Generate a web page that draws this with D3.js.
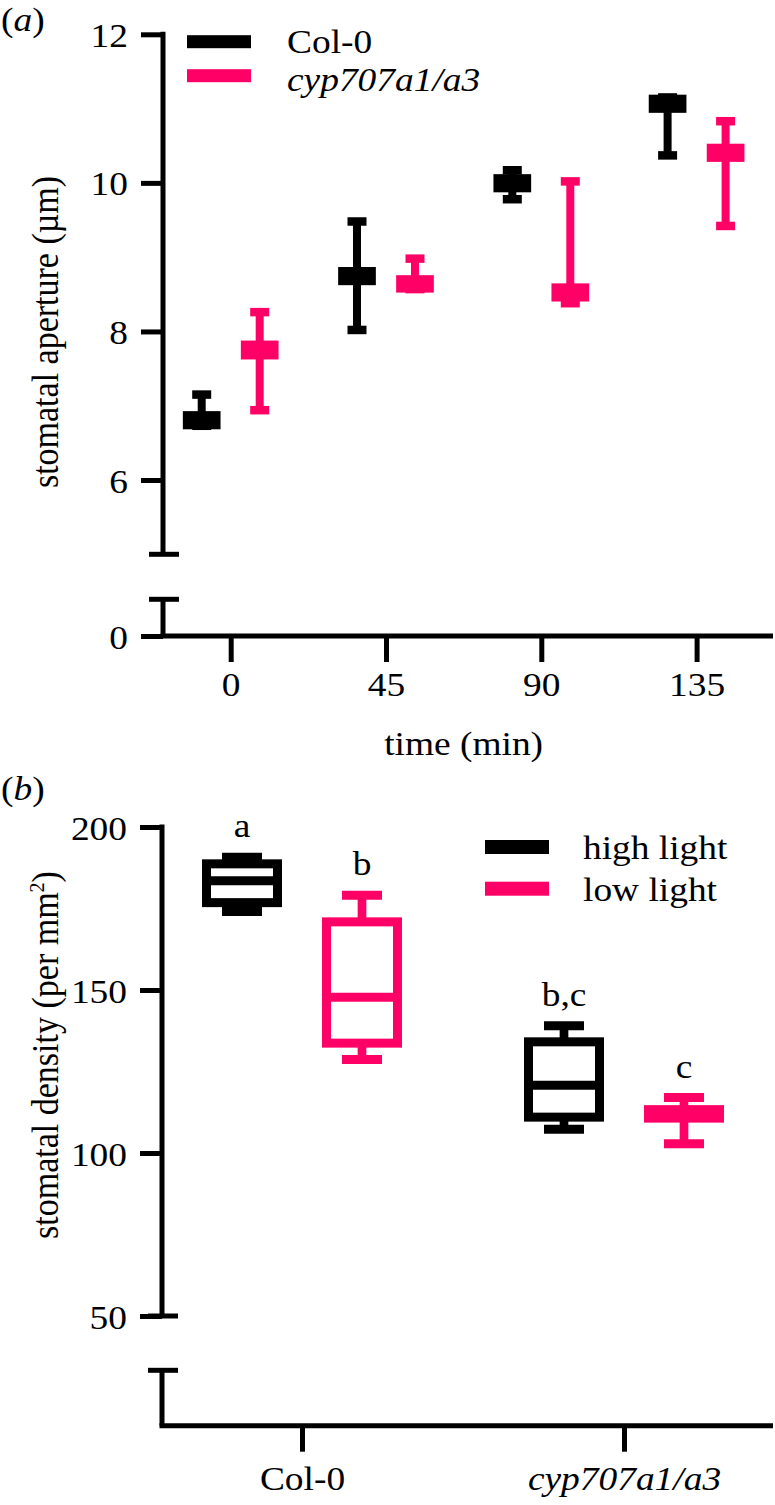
<!DOCTYPE html>
<html>
<head>
<meta charset="utf-8">
<script src="https://cdn.jsdelivr.net/npm/d3@7"></script>
<style>
  html, body { margin: 0; padding: 0; background: #ffffff; }
  svg { display: block; }
</style>
</head>
<body>
<script>
// ---------------- DATA ----------------
// Panel (a): stomatal aperture (µm) over time
const timePoints = ["0", "45", "90", "135"];
const genotypes = ["Col-0", "cyp707a1/a3"];
const col0Min = [6.73, 8.02, 9.78, 10.37];
const col0Q1  = [6.74, 8.68, 9.93, 11.00];
const col0Med = [6.80, 8.75, 10.00, 11.07];
const col0Q3  = [6.87, 8.81, 10.06, 11.13];
const col0Max = [7.15, 9.48, 10.17, 11.15];
const cypMin = [6.94, 8.57, 8.38, 9.42];
const cypQ1  = [7.68, 8.58, 8.46, 10.34];
const cypMed = [7.75, 8.64, 8.52, 10.40];
const cypQ3  = [7.82, 8.70, 8.59, 10.47];
const cypMax = [8.26, 8.98, 10.02, 10.83];
const ticksA = [6, 8, 10, 12];

// Panel (b): stomatal density (per mm²)
const genotypesB = ["Col-0", "cyp707a1/a3"];
const lightLevels = ["high light", "low light"];
const highMin = [174.1, 107.3];
const highQ1  = [176.8, 111.0];
const highMed = [183.5, 120.8];
const highQ3  = [188.7, 134.1];
const highMax = [190.7, 139.0];
const lowMin = [128.7, 102.8];
const lowQ1  = [133.7, 110.7];
const lowMed = [147.8, 112.0];
const lowQ3  = [170.9, 113.3];
const lowMax = [179.1, 117.0];
const highLetters = ["a", "b,c"];
const lowLetters = ["b", "c"];
const ticksB = [50, 100, 150, 200];

// ---------------- STYLE ----------------
const BLACK = "#000000";
const PINK = "#ff0066";
const FONT = "'Liberation Serif','Times New Roman',Times,serif";
const FS = 34;
const SX = 1.1;

const svg = d3.select("body").append("svg")
  .attr("width", 775).attr("height", 1505)
  .attr("font-family", FONT).attr("font-size", FS);
svg.append("rect").attr("width", 775).attr("height", 1505).attr("fill", "#fff");

function txt(parent, x, y, anchor) {
  return parent.append("text")
    .attr("transform", `translate(${x},${y}) scale(${SX},1)`)
    .attr("text-anchor", anchor || "start")
    .attr("fill", "#000");
}
function styleAxis(g, sw) {
  g.attr("font-size", FS).attr("font-family", FONT);
  g.select(".domain").remove();
  g.selectAll(".tick line").attr("stroke", "#000").attr("stroke-width", sw);
  g.selectAll(".tick text").attr("fill", "#000");
}
function leftLabels(g, dx, dy) {
  g.selectAll(".tick text").attr("x", null).attr("dy", null).attr("y", null)
    .attr("text-anchor", "end")
    .attr("transform", `translate(${dx},${dy}) scale(${SX},1)`);
}
function bottomLabels(g, dy) {
  g.selectAll(".tick text").attr("x", null).attr("dy", null).attr("y", null)
    .attr("text-anchor", "middle")
    .attr("transform", `translate(0,${dy}) scale(${SX},1)`);
}

function drawBoxes(g, series, xPos, yScale, o) {
  const grp = g.selectAll("g.series").data(series).join("g").attr("class", "series")
    .attr("stroke", d => d.color).attr("fill", "none");
  grp.each(function(s) {
    const sg = d3.select(this);
    const items = s.stats;
    sg.selectAll("line.wu").data(items).join("line").attr("class", "wu")
      .attr("x1", d => xPos(s, d)).attr("x2", d => xPos(s, d))
      .attr("y1", d => yScale(d.max)).attr("y2", d => yScale(d.q3))
      .attr("stroke-width", o.ws);
    sg.selectAll("line.wl").data(items).join("line").attr("class", "wl")
      .attr("x1", d => xPos(s, d)).attr("x2", d => xPos(s, d))
      .attr("y1", d => yScale(d.q1)).attr("y2", d => yScale(d.min))
      .attr("stroke-width", o.ws);
    ["max", "min"].forEach(k => {
      sg.selectAll("line.c" + k).data(items).join("line").attr("class", "c" + k)
        .attr("x1", d => xPos(s, d) - o.cap / 2).attr("x2", d => xPos(s, d) + o.cap / 2)
        .attr("y1", d => yScale(d[k])).attr("y2", d => yScale(d[k]))
        .attr("stroke-width", o.sw);
    });
    sg.selectAll("rect.box").data(items).join("rect").attr("class", "box")
      .attr("x", d => xPos(s, d) - o.bw / 2).attr("width", o.bw)
      .attr("y", d => yScale(d.q3)).attr("height", d => yScale(d.q1) - yScale(d.q3))
      .attr("stroke-width", o.sw).attr("fill", "none");
    sg.selectAll("line.med").data(items).join("line").attr("class", "med")
      .attr("x1", d => xPos(s, d) - o.bw / 2).attr("x2", d => xPos(s, d) + o.bw / 2)
      .attr("y1", d => yScale(d.med)).attr("y2", d => yScale(d.med))
      .attr("stroke-width", o.sw);
  });
}

// ================= PANEL A =================
const gA = svg.append("g");
const axA = 163;
const xA = d3.scalePoint().domain(timePoints).range([230.7, 696.6]);
const offA = d3.scalePoint().domain(genotypes).range([-29, 29]);
const yA = d3.scaleLinear().domain([5, 12]).range([554.3, 34.3]);
const yA0 = d3.scaleLinear().domain([0, 0.5]).range([636, 599.3]);

const seriesA = [
  { name: genotypes[0], color: BLACK, mins: col0Min, q1s: col0Q1, meds: col0Med, q3s: col0Q3, maxs: col0Max },
  { name: genotypes[1], color: PINK, mins: cypMin, q1s: cypQ1, meds: cypMed, q3s: cypQ3, maxs: cypMax }
].map(s => ({
  name: s.name, color: s.color,
  stats: timePoints.map((t, i) => ({ cat: t, min: s.mins[i], q1: s.q1s[i], med: s.meds[i], q3: s.q3s[i], max: s.maxs[i] }))
}));

const gyA = gA.append("g").attr("transform", `translate(${axA},0)`)
  .call(d3.axisLeft(yA).tickValues(ticksA).tickSize(22).tickSizeOuter(0).tickFormat(d3.format("d")));
styleAxis(gyA, 5); leftLabels(gyA, -35, 12);
gA.append("line").attr("x1", axA).attr("x2", axA).attr("y1", yA(12) - 2.5).attr("y2", yA(5))
  .attr("stroke", "#000").attr("stroke-width", 5);
gA.append("line").attr("x1", axA - 14).attr("x2", axA + 16).attr("y1", yA(5)).attr("y2", yA(5))
  .attr("stroke", "#000").attr("stroke-width", 5);
const gyA0 = gA.append("g").attr("transform", `translate(${axA},0)`)
  .call(d3.axisLeft(yA0).tickValues([0]).tickSize(22).tickSizeOuter(0).tickFormat(d3.format("d")));
styleAxis(gyA0, 5); leftLabels(gyA0, -35, 12);
gA.append("line").attr("x1", axA).attr("x2", axA).attr("y1", yA0(0.5)).attr("y2", yA0(0))
  .attr("stroke", "#000").attr("stroke-width", 5);
gA.append("line").attr("x1", axA - 14).attr("x2", axA + 16).attr("y1", yA0(0.5)).attr("y2", yA0(0.5))
  .attr("stroke", "#000").attr("stroke-width", 5);
const gxA = gA.append("g").attr("transform", `translate(0,${yA0(0)})`)
  .call(d3.axisBottom(xA).tickSize(26).tickSizeOuter(0));
styleAxis(gxA, 5); bottomLabels(gxA, 60);
gA.append("line").attr("x1", axA - 2.5).attr("x2", 773).attr("y1", yA0(0)).attr("y2", yA0(0))
  .attr("stroke", "#000").attr("stroke-width", 5);

drawBoxes(gA, seriesA, (s, d) => xA(d.cat) + offA(s.name), yA, { bw: 29.2, sw: 8.5, ws: 8, cap: 19 });

txt(gA, 463.6, 755, "middle").text("time (min)");
gA.append("text").attr("transform", `translate(58,332) scale(${SX},1) rotate(-90)`)
  .attr("text-anchor", "middle").text("stomatal aperture (µm)");
const pa = txt(gA, 1, 31, "start");
pa.append("tspan").text("(");
pa.append("tspan").attr("font-style", "italic").text("a");
pa.append("tspan").text(")");

const legA = gA.append("g");
seriesA.forEach((s, i) => {
  const cy = [41.7, 75.7][i];
  legA.append("rect").attr("x", 187).attr("y", cy - 6.5).attr("width", 64).attr("height", 13).attr("fill", s.color);
  const t = txt(legA, 287, [53, 91][i], "start").text(s.name);
  if (i === 1) t.attr("font-style", "italic");
});

// ================= PANEL B =================
const gB = svg.append("g");
const axB = 162;
const xB = d3.scalePoint().domain(genotypesB).range([302, 624]);
const offB = d3.scalePoint().domain(lightLevels).range([-60, 60]);
const yB = d3.scaleLinear().domain([50, 200]).range([1316, 827]);
const yB0 = d3.scaleLinear().domain([0, 17]).range([1425.7, 1370.3]);

const seriesB = [
  { name: lightLevels[0], color: BLACK, mins: highMin, q1s: highQ1, meds: highMed, q3s: highQ3, maxs: highMax, letters: highLetters },
  { name: lightLevels[1], color: PINK, mins: lowMin, q1s: lowQ1, meds: lowMed, q3s: lowQ3, maxs: lowMax, letters: lowLetters }
].map(s => ({
  name: s.name, color: s.color,
  stats: genotypesB.map((g, i) => ({ cat: g, min: s.mins[i], q1: s.q1s[i], med: s.meds[i], q3: s.q3s[i], max: s.maxs[i], letter: s.letters[i] }))
}));

const gyB = gB.append("g").attr("transform", `translate(${axB},0)`)
  .call(d3.axisLeft(yB).tickValues(ticksB).tickSize(22).tickSizeOuter(0).tickFormat(d3.format("d")));
styleAxis(gyB, 5); leftLabels(gyB, -35, 12);
gB.append("line").attr("x1", axB).attr("x2", axB).attr("y1", yB(200) - 2.5).attr("y2", yB(50))
  .attr("stroke", "#000").attr("stroke-width", 5);
gB.append("line").attr("x1", axB - 14).attr("x2", axB + 16).attr("y1", yB(50)).attr("y2", yB(50))
  .attr("stroke", "#000").attr("stroke-width", 5);
gB.append("line").attr("x1", axB).attr("x2", axB).attr("y1", yB0(17)).attr("y2", yB0(0))
  .attr("stroke", "#000").attr("stroke-width", 5);
gB.append("line").attr("x1", axB - 14).attr("x2", axB + 16).attr("y1", yB0(17)).attr("y2", yB0(17))
  .attr("stroke", "#000").attr("stroke-width", 5);
const gxB = gB.append("g").attr("transform", `translate(0,${yB0(0)})`)
  .call(d3.axisBottom(xB).tickSize(26).tickSizeOuter(0));
styleAxis(gxB, 5); bottomLabels(gxB, 64);
gxB.selectAll(".tick text").filter(d => d === genotypesB[1]).attr("font-style", "italic");
gB.append("line").attr("x1", axB - 2.5).attr("x2", 773).attr("y1", yB0(0)).attr("y2", yB0(0))
  .attr("stroke", "#000").attr("stroke-width", 5);

const xPosB = (s, d) => xB(d.cat) + offB(s.name);
drawBoxes(gB, seriesB, xPosB, yB, { bw: 71, sw: 9, ws: 8.7, cap: 40 });

seriesB.forEach(s => s.stats.forEach(d => {
  txt(gB, xPosB(s, d), yB(d.max) - 20, "middle").text(d.letter);
}));

const ylB = gB.append("text").attr("transform", `translate(58,1055) scale(${SX},1) rotate(-90)`)
  .attr("text-anchor", "middle");
ylB.append("tspan").text("stomatal density (per mm");
ylB.append("tspan").attr("font-size", 20).attr("dy", -13).text("2");
ylB.append("tspan").attr("dy", 13).text(")");
const pb = txt(gB, 1, 800, "start");
pb.append("tspan").text("(");
pb.append("tspan").attr("font-style", "italic").text("b");
pb.append("tspan").text(")");

const legB = gB.append("g");
seriesB.forEach((s, i) => {
  const cy = [847, 888.7][i];
  legB.append("rect").attr("x", 485).attr("y", cy - 7).attr("width", 64).attr("height", 14).attr("fill", s.color);
  txt(legB, 583, cy + 12, "start").text(s.name);
});
</script>
</body>
</html>
